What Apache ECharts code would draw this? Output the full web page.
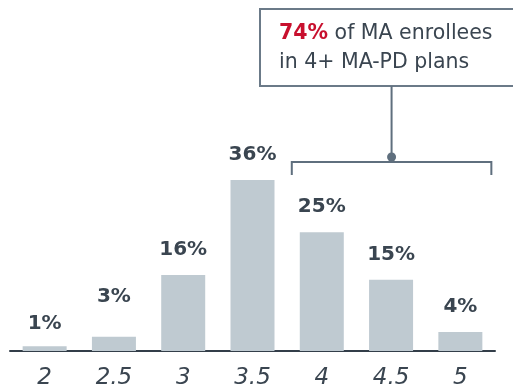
<!DOCTYPE html>
<html>
<head>
<meta charset="utf-8">
<script src="https://cdn.jsdelivr.net/npm/echarts@6/dist/echarts.min.js"></script>
<style>
  html, body { margin: 0; padding: 0; background: #fff; }
  #chart { width: 513px; height: 390px; }
</style>
</head>
<body>
<div id="chart"></div>
<script>
// Star ratings and share of MA enrollees at each rating
const starRatings = ['2', '2.5', '3', '3.5', '4', '4.5', '5'];
const enrolleeShare = [1, 3, 16, 36, 25, 15, 4];
// Extra lift for labels that sit off the usual spacing
const labelLift = [-3, 15, 0, 0, 0, 0, 0];
const calloutPct = '74%';
const calloutLine1 = ' of MA enrollees';
const calloutLine2 = 'in 4+ MA-PD plans';
const bracketFrom = '4';
const bracketTo = '5';

const FONT = '"DejaVu Sans", "Liberation Sans", Arial, sans-serif';
const INK = '#3a4550';
const LINE = '#5f6f7e';

const chart = echarts.init(document.getElementById('chart'));

chart.setOption({
  animation: false,
  backgroundColor: '#ffffff',
  grid: { left: 10, right: 18, top: 18.5, bottom: 39, outerBoundsMode: 'none' },
  xAxis: {
    type: 'category',
    data: starRatings,
    axisTick: { show: false },
    axisLine: { lineStyle: { color: '#333e49', width: 2 } },
    axisLabel: {
      color: INK, fontFamily: FONT, fontSize: 23, fontStyle: 'italic', margin: 16
    }
  },
  yAxis: {
    type: 'value', min: 0, max: 70,
    show: false, splitLine: { show: false }
  },
  series: [{
    type: 'bar',
    barWidth: 44,
    itemStyle: { color: '#bfcad1' },
    data: enrolleeShare.map((v, i) => ({
      value: v,
      label: { distance: 15 + labelLift[i] }
    })),
    label: {
      show: true, position: 'top',
      color: INK, fontFamily: FONT, fontSize: 20, fontWeight: 'bold',
      formatter: p => p.value + '%'
    }
  }]
});

// Bracket over the 4+ ratings, tied to the callout box
const grid = { xAxisIndex: 0, yAxisIndex: 0 };
const halfBar = 22;
const xa = chart.convertToPixel(grid, [bracketFrom, 0])[0] - halfBar - 8;
const xb = chart.convertToPixel(grid, [bracketTo, 0])[0] + halfBar + 9;
const xm = (xa + xb) / 2;
const yBar = 162, yEnd = 175;
const box = { x: 260, y: 9, w: 262, h: 77 };

chart.setOption({
  graphic: [
    {
      type: 'rect',
      shape: { x: box.x, y: box.y, width: box.w, height: box.h },
      style: { fill: '#fff', stroke: '#6b7a88', lineWidth: 2 }
    },
    {
      type: 'text', x: 279, y: 19,
      style: {
        text: '{r|' + calloutPct + '}' + calloutLine1 + '\n' + calloutLine2,
        font: '20.5px ' + FONT, fill: INK, lineHeight: 29,
        rich: { r: { fill: '#c8102e', fontWeight: 'bold', fontSize: 20.5, fontFamily: FONT, lineHeight: 29 } }
      }
    },
    {
      type: 'polyline',
      shape: { points: [[xa, yEnd], [xa, yBar], [xb, yBar], [xb, yEnd]] },
      style: { stroke: LINE, lineWidth: 2, fill: null }
    },
    {
      type: 'line',
      shape: { x1: xm, y1: box.y + box.h, x2: xm, y2: yBar },
      style: { stroke: LINE, lineWidth: 2 }
    },
    {
      type: 'circle',
      shape: { cx: xm, cy: yBar - 5, r: 4.5 },
      style: { fill: LINE }
    }
  ]
});
</script>
</body>
</html>
